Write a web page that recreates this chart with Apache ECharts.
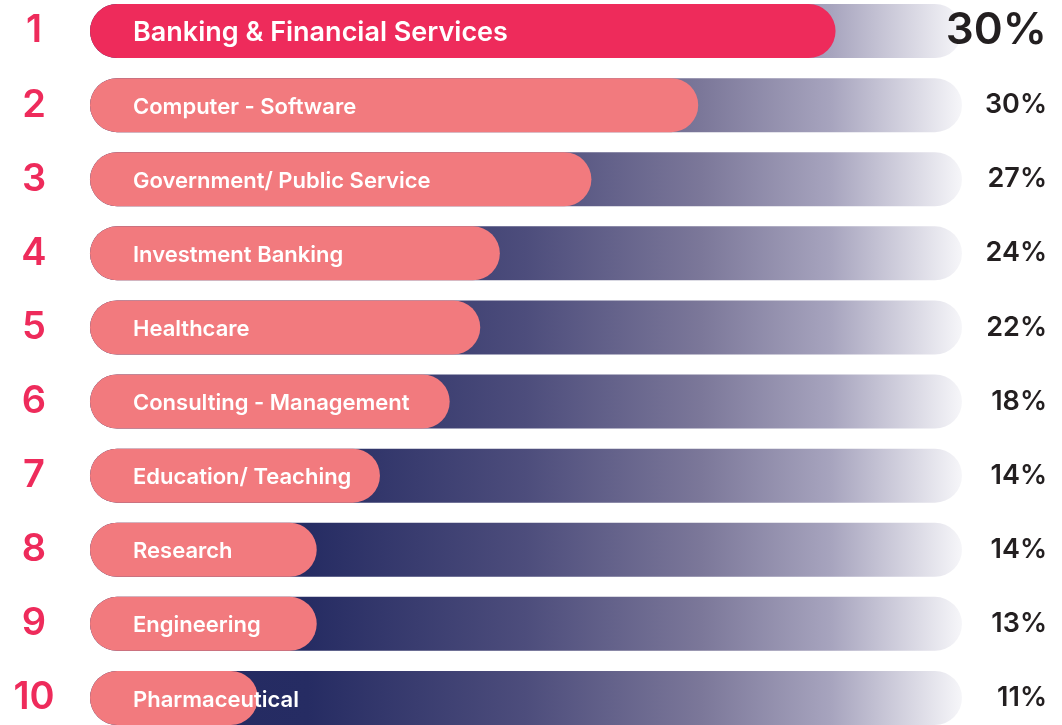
<!DOCTYPE html>
<html>
<head>
<meta charset="utf-8">
<script src="https://cdn.jsdelivr.net/npm/echarts@6/dist/echarts.min.js"></script>
<style>
  html, body { margin: 0; padding: 0; background: #fff; }
  #chart { width: 1062px; height: 725px; }
</style>
</head>
<body>
<div id="chart"></div>
<script>
// data
const ranks = ['1', '2', '3', '4', '5', '6', '7', '8', '9', '10']
const industries = [
  'Banking & Financial Services',
  'Computer - Software',
  'Government/ Public Service',
  'Investment Banking',
  'Healthcare',
  'Consulting - Management',
  'Education/ Teaching',
  'Research',
  'Engineering',
  'Pharmaceutical'
]
const shareLabels = ['30%', '30%', '27%', '24%', '22%', '18%', '14%', '14%', '13%', '11%']
// drawn bar lengths (scale 0..40, track = 40)
const barLengths = [34.2, 27.9, 23.0, 18.8, 17.9, 16.5, 13.3, 10.4, 10.4, 7.7]
const trackLengths = [40, 40, 40, 40, 40, 40, 40, 40, 40, 40]

const FONT = 'Inter, "Noto Sans", sans-serif'
const PINK = '#f27a7e'
const RED = '#ee2b5b'

const chart = echarts.init(document.getElementById('chart'))

const option = {
  animation: false,
  grid: { left: 90, right: 100, top: -6, bottom: -10, outerBoundsMode: 'none' },
  xAxis: {
    type: 'value',
    min: 0,
    max: 40,
    show: false
  },
  yAxis: [
    {
      type: 'category',
      inverse: true,
      data: ranks,
      position: 'left',
      axisLine: { show: false },
      axisTick: { show: false },
      axisLabel: {
        margin: 56,
        align: 'center',
        padding: [5, 0, 0, 0],
        color: RED,
        fontFamily: FONT,
        fontWeight: 600,
        fontSize: 38
      }
    },
    {
      type: 'category',
      inverse: true,
      data: shareLabels,
      position: 'right',
      z: 10,
      axisLine: { show: false },
      axisTick: { show: false },
      axisLabel: {
        margin: 85,
        align: 'right',
        formatter: (v, i) => (i === 0 ? `{big|${v}}` : `{n|${v}}`),
        rich: {
          big: { fontFamily: FONT, fontWeight: 600, fontSize: 44, color: '#231f20' },
          n: { fontFamily: FONT, fontWeight: 600, fontSize: 27, color: '#231f20' }
        }
      }
    }
  ],
  series: [
    {
      name: 'track',
      type: 'bar',
      barWidth: 54,
      silent: true,
      data: trackLengths,
      itemStyle: {
        borderRadius: 27,
        color: {
          type: 'linear',
          x: 90, y: 0, x2: 962, y2: 0,
          global: true,
          colorStops: [
            { offset: 0, color: '#222961' },
            { offset: 0.25, color: '#262c63' },
            { offset: 0.5, color: '#4d4d7c' },
            { offset: 0.7, color: '#7b7799' },
            { offset: 0.85, color: '#a7a4be' },
            { offset: 1, color: '#f6f6f9' }
          ]
        }
      }
    },
    {
      name: 'share',
      type: 'bar',
      barWidth: 54,
      barGap: '-100%',
      data: barLengths.map((v, i) => ({
        value: v,
        itemStyle: { color: i === 0 ? RED : PINK },
        label: i === 0 ? { fontSize: 27 } : {}
      })),
      itemStyle: { borderRadius: 27 },
      label: {
        show: true,
        position: 'insideLeft',
        distance: 43,
        offset: [0, 2],
        formatter: (p) => industries[p.dataIndex],
        color: '#fff',
        fontFamily: FONT,
        fontWeight: 600,
        fontSize: 22
      }
    }
  ]
}

chart.setOption(option)
</script>
</body>
</html>
